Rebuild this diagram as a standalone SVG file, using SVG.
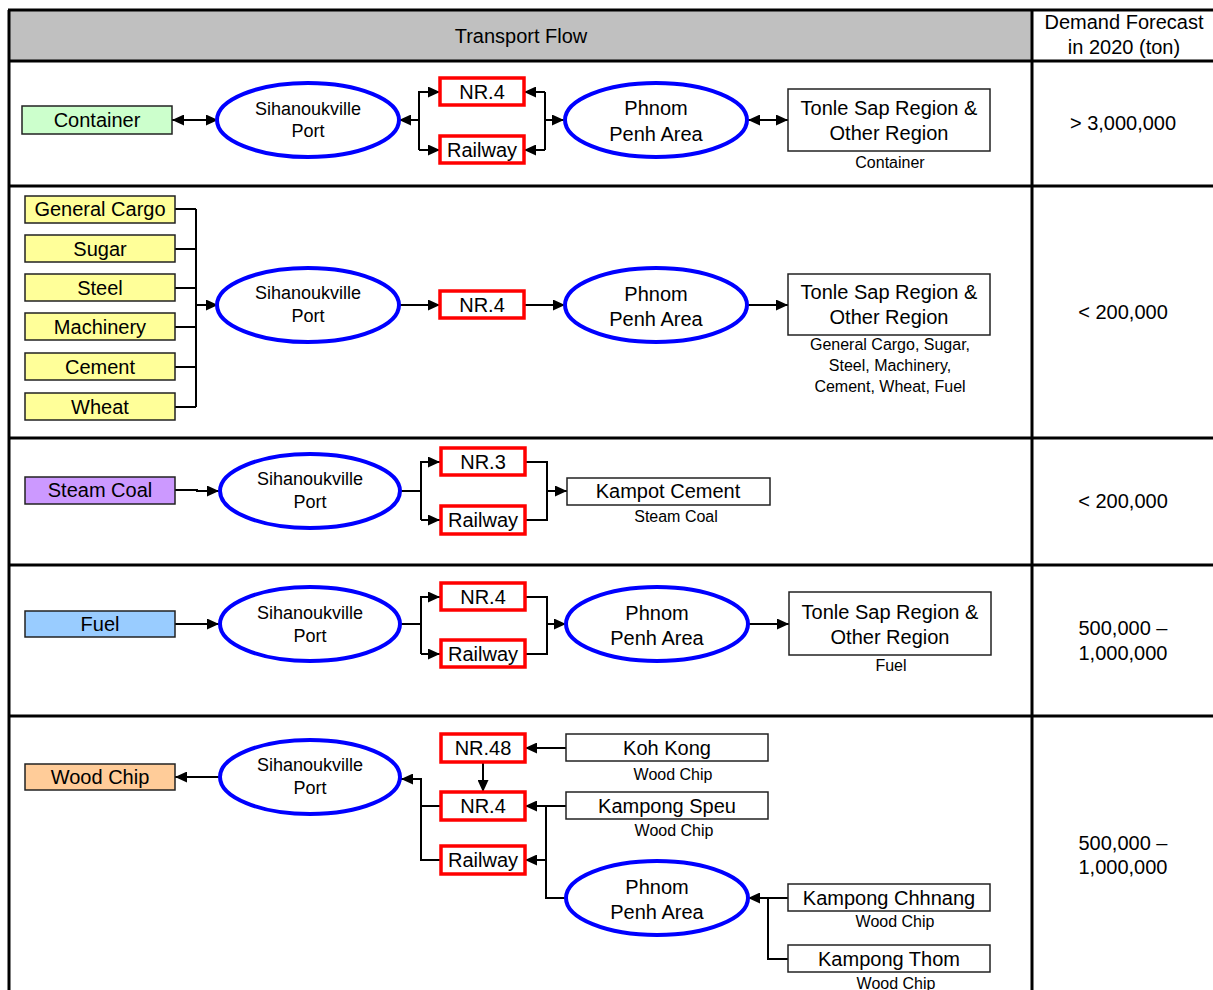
<svg xmlns="http://www.w3.org/2000/svg" width="1213" height="990" viewBox="0 0 1213 990">
  <style>
    text { font-family: "Liberation Sans", "Noto Sans CJK JP", sans-serif; fill: #000; text-anchor: middle; }
    .lbl { font-size: 20px; }
    .port { font-size: 18px; }
    .cap { font-size: 16px; }
    .hdr { font-size: 20px; }
    .grid { stroke: #000; stroke-width: 3; fill: none; }
    .cargo { stroke: #222; stroke-width: 1.5; }
    .place { fill: #fff; stroke: #222; stroke-width: 1.5; }
    .route { fill: #fff; stroke: #f00; stroke-width: 3.5; }
    .hub { fill: #fff; stroke: #00f; stroke-width: 4; }
    .ln { fill: none; stroke: #000; stroke-width: 2; }
  </style>
  <defs>
    <marker id="arr" viewBox="0 0 12 11" refX="12" refY="5.5" markerWidth="12" markerHeight="11" markerUnits="userSpaceOnUse" orient="auto-start-reverse">
      <path d="M0,0 L12,5.5 L0,11 z" fill="#000"/>
    </marker>
  </defs>

  <rect width="1213" height="990" fill="#fff"/>

  <!-- table frame -->
  <g id="table">
    <rect x="9" y="10" width="1023" height="51" fill="#c0c0c0"/>
    <path class="grid" d="M8,10 H1213 M9,10 V990 M1032,10 V990 M8,61 H1213 M8,186 H1213 M8,438 H1213 M8,565 H1213 M8,716 H1213"/>
    <text class="hdr" x="521" y="43">Transport Flow</text>
    <text class="hdr" x="1124" y="29">Demand Forecast</text>
    <text class="hdr" x="1124" y="54">in 2020 (ton)</text>
  </g>

  <!-- demand values -->
  <g id="demand">
    <text class="lbl" x="1123" y="130">&gt; 3,000,000</text>
    <text class="lbl" x="1123" y="319">&lt; 200,000</text>
    <text class="lbl" x="1123" y="508">&lt; 200,000</text>
    <text class="lbl" x="1123" y="635">500,000 –</text>
    <text class="lbl" x="1123" y="660">1,000,000</text>
    <text class="lbl" x="1123" y="850">500,000 –</text>
    <text class="lbl" x="1123" y="874">1,000,000</text>
  </g>

  <!-- connectors -->
  <g id="connectors" class="ln">
    <!-- row 1 : container -->
    <path d="M172,120 H218" marker-start="url(#arr)" marker-end="url(#arr)"/>
    <path d="M419,120 H399" marker-end="url(#arr)"/>
    <path d="M419,150 V92 H440" marker-end="url(#arr)"/>
    <path d="M419,150 H440" marker-end="url(#arr)"/>
    <path d="M545,92 H524" marker-end="url(#arr)"/>
    <path d="M545,150 H524" marker-end="url(#arr)"/>
    <path d="M545,92 V150"/>
    <path d="M545,120 H564" marker-end="url(#arr)"/>
    <path d="M748,120 H788" marker-start="url(#arr)" marker-end="url(#arr)"/>

    <!-- row 2 : general cargo -->
    <path d="M175,209 H196 M175,249 H196 M175,288 H196 M175,327 H196 M175,367 H196 M175,407 H196 M196,209 V407"/>
    <path d="M196,305 H218" marker-end="url(#arr)"/>
    <path d="M399,305 H440" marker-end="url(#arr)"/>
    <path d="M524,305 H565" marker-end="url(#arr)"/>
    <path d="M748,305 H788" marker-end="url(#arr)"/>

    <!-- row 3 : steam coal -->
    <path d="M175,490 H197 V491 H219" marker-end="url(#arr)"/>
    <path d="M400,491 H421"/>
    <path d="M421,520 V462 H440" marker-end="url(#arr)"/>
    <path d="M421,520 H440" marker-end="url(#arr)"/>
    <path d="M525,462 H547 V520 H525"/>
    <path d="M547,491 H567" marker-end="url(#arr)"/>

    <!-- row 4 : fuel -->
    <path d="M175,624 H219" marker-end="url(#arr)"/>
    <path d="M400,624 H421"/>
    <path d="M421,654 V597 H440" marker-end="url(#arr)"/>
    <path d="M421,654 H440" marker-end="url(#arr)"/>
    <path d="M525,597 H547 V654 H525"/>
    <path d="M547,624 H566" marker-end="url(#arr)"/>
    <path d="M748,624 H789" marker-end="url(#arr)"/>

    <!-- row 5 : wood chip -->
    <path d="M219,777 H175" marker-end="url(#arr)"/>
    <path d="M441,806 H421"/>
    <path d="M441,860 H421 V779 H401" marker-end="url(#arr)"/>
    <path d="M483,762 V792" marker-end="url(#arr)"/>
    <path d="M566,748 H525" marker-end="url(#arr)"/>
    <path d="M566,806 H525" marker-end="url(#arr)"/>
    <path d="M566,898 H546 V806"/>
    <path d="M546,860 H525" marker-end="url(#arr)"/>
    <path d="M788,898 H748" marker-end="url(#arr)"/>
    <path d="M788,959 H768 V898"/>
  </g>

  <!-- row 1 nodes -->
  <g id="container">
    <rect class="cargo" x="22" y="106" width="150" height="28" fill="#ccffcc"/>
    <text class="lbl" x="97" y="127">Container</text>
  </g>
  <g id="port1">
    <ellipse class="hub" cx="308" cy="120" rx="91" ry="37"/>
    <text class="port" x="308" y="115">Sihanoukville</text>
    <text class="port" x="308" y="137">Port</text>
  </g>
  <g id="nr4-1">
    <rect class="route" x="440" y="78" width="84" height="27"/>
    <text class="lbl" x="482" y="99">NR.4</text>
  </g>
  <g id="rail-1">
    <rect class="route" x="440" y="136" width="84" height="27"/>
    <text class="lbl" x="482" y="157">Railway</text>
  </g>
  <g id="phnom1">
    <ellipse class="hub" cx="656" cy="120" rx="91" ry="37"/>
    <text class="lbl" x="656" y="115">Phnom</text>
    <text class="lbl" x="656" y="141">Penh Area</text>
  </g>
  <g id="tonle1">
    <rect class="place" x="788" y="89" width="202" height="62"/>
    <text class="lbl" x="889" y="115">Tonle Sap Region &amp;</text>
    <text class="lbl" x="889" y="140">Other Region</text>
    <text class="cap" x="890" y="168">Container</text>
  </g>

  <!-- row 2 nodes -->
  <g id="general-cargo">
    <rect class="cargo" x="25" y="196" width="150" height="27" fill="#ffff99"/>
    <text class="lbl" x="100" y="216">General Cargo</text>
  </g>
  <g id="sugar">
    <rect class="cargo" x="25" y="235" width="150" height="27" fill="#ffff99"/>
    <text class="lbl" x="100" y="256">Sugar</text>
  </g>
  <g id="steel">
    <rect class="cargo" x="25" y="274" width="150" height="27" fill="#ffff99"/>
    <text class="lbl" x="100" y="295">Steel</text>
  </g>
  <g id="machinery">
    <rect class="cargo" x="25" y="313" width="150" height="27" fill="#ffff99"/>
    <text class="lbl" x="100" y="334">Machinery</text>
  </g>
  <g id="cement">
    <rect class="cargo" x="25" y="353" width="150" height="27" fill="#ffff99"/>
    <text class="lbl" x="100" y="374">Cement</text>
  </g>
  <g id="wheat">
    <rect class="cargo" x="25" y="393" width="150" height="27" fill="#ffff99"/>
    <text class="lbl" x="100" y="414">Wheat</text>
  </g>
  <g id="port2">
    <ellipse class="hub" cx="308" cy="305" rx="91" ry="37"/>
    <text class="port" x="308" y="299">Sihanoukville</text>
    <text class="port" x="308" y="322">Port</text>
  </g>
  <g id="nr4-2">
    <rect class="route" x="440" y="291" width="84" height="27"/>
    <text class="lbl" x="482" y="312">NR.4</text>
  </g>
  <g id="phnom2">
    <ellipse class="hub" cx="656" cy="305" rx="91" ry="37"/>
    <text class="lbl" x="656" y="301">Phnom</text>
    <text class="lbl" x="656" y="326">Penh Area</text>
  </g>
  <g id="tonle2">
    <rect class="place" x="788" y="274" width="202" height="61"/>
    <text class="lbl" x="889" y="299">Tonle Sap Region &amp;</text>
    <text class="lbl" x="889" y="324">Other Region</text>
    <text class="cap" x="890" y="350">General Cargo, Sugar,</text>
    <text class="cap" x="890" y="371">Steel, Machinery,</text>
    <text class="cap" x="890" y="392">Cement, Wheat, Fuel</text>
  </g>

  <!-- row 3 nodes -->
  <g id="steam-coal">
    <rect class="cargo" x="25" y="477" width="150" height="27" fill="#cc99ff"/>
    <text class="lbl" x="100" y="497">Steam Coal</text>
  </g>
  <g id="port3">
    <ellipse class="hub" cx="310" cy="491" rx="90" ry="37"/>
    <text class="port" x="310" y="485">Sihanoukville</text>
    <text class="port" x="310" y="508">Port</text>
  </g>
  <g id="nr3">
    <rect class="route" x="441" y="448" width="84" height="27"/>
    <text class="lbl" x="483" y="469">NR.3</text>
  </g>
  <g id="rail-3">
    <rect class="route" x="441" y="506" width="84" height="28"/>
    <text class="lbl" x="483" y="527">Railway</text>
  </g>
  <g id="kampot">
    <rect class="place" x="567" y="478" width="203" height="27"/>
    <text class="lbl" x="668" y="498">Kampot Cement</text>
    <text class="cap" x="676" y="522">Steam Coal</text>
  </g>

  <!-- row 4 nodes -->
  <g id="fuel">
    <rect class="cargo" x="25" y="611" width="150" height="26" fill="#99ccff"/>
    <text class="lbl" x="100" y="631">Fuel</text>
  </g>
  <g id="port4">
    <ellipse class="hub" cx="310" cy="624" rx="90" ry="37"/>
    <text class="port" x="310" y="619">Sihanoukville</text>
    <text class="port" x="310" y="642">Port</text>
  </g>
  <g id="nr4-4">
    <rect class="route" x="441" y="583" width="84" height="27"/>
    <text class="lbl" x="483" y="604">NR.4</text>
  </g>
  <g id="rail-4">
    <rect class="route" x="441" y="640" width="84" height="27"/>
    <text class="lbl" x="483" y="661">Railway</text>
  </g>
  <g id="phnom4">
    <ellipse class="hub" cx="657" cy="624" rx="91" ry="37"/>
    <text class="lbl" x="657" y="620">Phnom</text>
    <text class="lbl" x="657" y="645">Penh Area</text>
  </g>
  <g id="tonle4">
    <rect class="place" x="789" y="592" width="202" height="63"/>
    <text class="lbl" x="890" y="619">Tonle Sap Region &amp;</text>
    <text class="lbl" x="890" y="644">Other Region</text>
    <text class="cap" x="891" y="671">Fuel</text>
  </g>

  <!-- row 5 nodes -->
  <g id="wood-chip">
    <rect class="cargo" x="25" y="764" width="150" height="26" fill="#ffcc99"/>
    <text class="lbl" x="100" y="784">Wood Chip</text>
  </g>
  <g id="port5">
    <ellipse class="hub" cx="310" cy="777" rx="90" ry="37"/>
    <text class="port" x="310" y="771">Sihanoukville</text>
    <text class="port" x="310" y="794">Port</text>
  </g>
  <g id="nr48">
    <rect class="route" x="441" y="734" width="84" height="28"/>
    <text class="lbl" x="483" y="755">NR.48</text>
  </g>
  <g id="nr4-5">
    <rect class="route" x="441" y="792" width="84" height="28"/>
    <text class="lbl" x="483" y="813">NR.4</text>
  </g>
  <g id="rail-5">
    <rect class="route" x="441" y="846" width="84" height="28"/>
    <text class="lbl" x="483" y="867">Railway</text>
  </g>
  <g id="koh-kong">
    <rect class="place" x="566" y="734" width="202" height="27"/>
    <text class="lbl" x="667" y="755">Koh Kong</text>
    <text class="cap" x="673" y="780">Wood Chip</text>
  </g>
  <g id="kampong-speu">
    <rect class="place" x="566" y="792" width="202" height="27"/>
    <text class="lbl" x="667" y="813">Kampong Speu</text>
    <text class="cap" x="674" y="836">Wood Chip</text>
  </g>
  <g id="phnom5">
    <ellipse class="hub" cx="657" cy="898" rx="91" ry="37"/>
    <text class="lbl" x="657" y="894">Phnom</text>
    <text class="lbl" x="657" y="919">Penh Area</text>
  </g>
  <g id="kampong-chhnang">
    <rect class="place" x="788" y="884" width="202" height="27"/>
    <text class="lbl" x="889" y="905">Kampong Chhnang</text>
    <text class="cap" x="895" y="927">Wood Chip</text>
  </g>
  <g id="kampong-thom">
    <rect class="place" x="788" y="945" width="202" height="27"/>
    <text class="lbl" x="889" y="966">Kampong Thom</text>
    <text class="cap" x="896" y="989">Wood Chip</text>
  </g>
</svg>
